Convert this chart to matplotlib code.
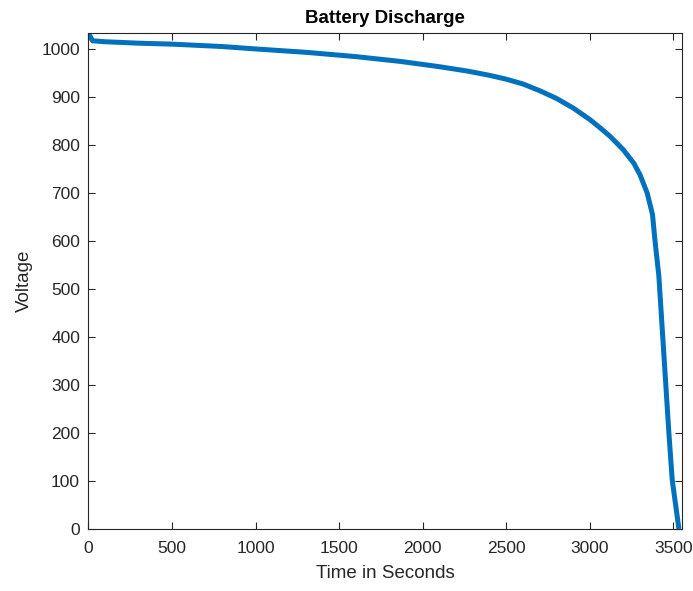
import matplotlib
matplotlib.use('Agg')
import matplotlib.pyplot as plt

# values
timeSeconds = [0, 25, 100, 300, 500, 800, 1000, 1300, 1600, 1867, 2100, 2266, 2400,
               2500, 2600, 2700, 2800, 2900, 3000, 3064, 3124, 3200, 3263, 3300,
               3343, 3375, 3390, 3413, 3473, 3493, 3533]
voltage = [1033, 1017, 1015, 1012, 1010, 1005, 1000, 993, 984, 974, 963, 954, 945,
           937, 927, 913, 897, 877, 853, 835, 817, 790, 762, 738,
           700, 655, 600, 527, 200, 102, 0]

xTicks = [0, 500, 1000, 1500, 2000, 2500, 3000, 3500]
yTicks = [0, 100, 200, 300, 400, 500, 600, 700, 800, 900, 1000]

plt.rcParams['font.family'] = ['Liberation Sans', 'DejaVu Sans']

fig = plt.figure(figsize=(6.93, 5.91), dpi=100)
ax = fig.add_axes([0.1275, 0.105, 0.857, 0.839])

ax.plot(timeSeconds, voltage, color='#0072BD', linewidth=3.6, solid_capstyle='butt')

ax.set_xlim(0, 3553)
ax.set_ylim(0, 1033)
ax.set_xticks(xTicks)
ax.set_yticks(yTicks)

axisColor = '#262626'
for side in ax.spines.values():
    side.set_color(axisColor)
    side.set_linewidth(0.8)
ax.tick_params(direction='in', top=True, right=True, length=5, width=0.8,
               colors=axisColor, labelsize=12.5, labelcolor='#262626')
ax.tick_params(axis='x', pad=9)
ax.tick_params(axis='y', pad=6)

ax.set_xlabel('Time in Seconds', fontsize=13.5, color='#262626', labelpad=6)
ax.set_ylabel('Voltage', fontsize=13.5, color='#262626', labelpad=6)
ax.set_title('Battery Discharge', fontsize=13.5, fontweight='bold', pad=7)

fig.savefig('out.png', dpi=100)
